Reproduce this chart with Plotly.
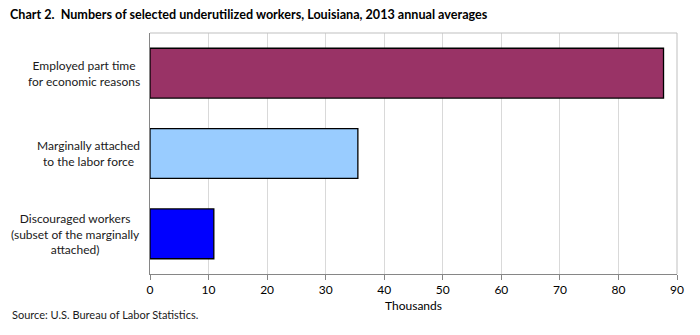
import plotly.graph_objects as go

# Underutilized worker groups (thousands), Louisiana 2013 annual averages
categories = [
    "Employed part time<br>for economic reasons",
    "Marginally attached<br>to the labor force",
    "Discouraged workers<br>(subset of the marginally<br>attached)",
]
values = [87.7, 35.5, 10.9]
bar_colors = ["#993366", "#99CCFF", "#0000FF"]
x_ticks = [0, 10, 20, 30, 40, 50, 60, 70, 80, 90]

FONT = "Lato, 'Open Sans', sans-serif"

fig = go.Figure(
    go.Bar(
        x=values,
        y=categories,
        orientation="h",
        marker=dict(color=bar_colors, line=dict(color="black", width=1.3)),
        width=0.62,
        hoverinfo="x+y",
    )
)

# Centered multi-line category labels to the left of the plot
for cat in categories:
    fig.add_annotation(
        x=0, xref="paper", y=cat, yref="y",
        text=cat, showarrow=False,
        xanchor="right", yanchor="middle", align="center",
        xshift=-8,
        font=dict(family=FONT, size=12, color="#1a1a1a"),
    )

fig.add_annotation(
    x=0, xref="paper", xanchor="left", xshift=-140,
    y=0, yref="paper", yanchor="top", yshift=-32,
    text="Source: U.S. Bureau of Labor Statistics.",
    showarrow=False,
    font=dict(family=FONT, size=11, color="#1a1a1a"),
)

fig.update_layout(
    width=700,
    height=335,
    margin=dict(l=150, r=23, t=33, b=61),
    paper_bgcolor="white",
    plot_bgcolor="white",
    showlegend=False,
    title=dict(
        text="<b>Chart 2.  Numbers of selected underutilized workers, Louisiana, 2013 annual averages</b>",
        x=0, xref="container", xanchor="left", y=0.97, yanchor="top", pad=dict(l=10),
        font=dict(family=FONT, size=12.6, color="black"),
    ),
    xaxis=dict(
        range=[0, 90],
        tickvals=x_ticks,
        ticks="outside",
        ticklen=5,
        tickcolor="#868686",
        showline=True,
        linecolor="#868686",
        linewidth=1,
        mirror=False,
        showgrid=True,
        gridcolor="#d9d9d9",
        gridwidth=1,
        zeroline=False,
        tickfont=dict(family=FONT, size=12, color="black"),
        title=dict(text="Thousands", font=dict(family=FONT, size=12, color="black"), standoff=5),
        fixedrange=True,
    ),
    yaxis=dict(
        categoryorder="array",
        categoryarray=categories,
        autorange="reversed",
        showticklabels=False,
        showline=True,
        linecolor="#868686",
        linewidth=1,
        showgrid=False,
        zeroline=False,
        fixedrange=True,
    ),
)

# Light gray frame on the top and right sides of the plot area
fig.add_shape(type="line", xref="paper", yref="paper", x0=0, x1=1, y0=1, y1=1,
              line=dict(color="#bfbfbf", width=1))
fig.add_shape(type="line", xref="paper", yref="paper", x0=1, x1=1, y0=0, y1=1,
              line=dict(color="#bfbfbf", width=1))

fig.write_html("out.html")
